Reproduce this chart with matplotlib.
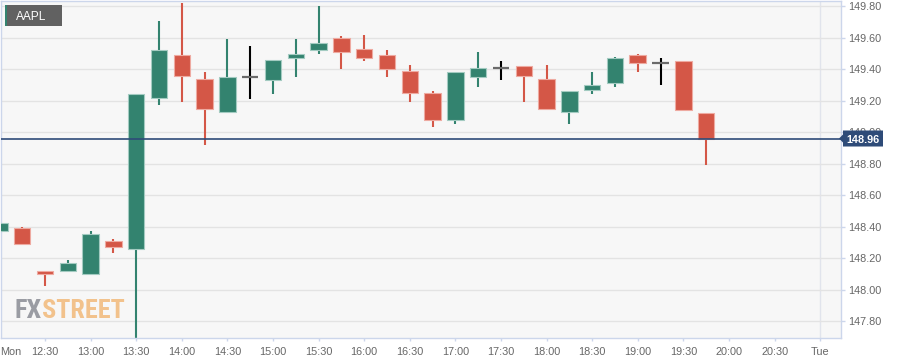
import matplotlib
matplotlib.use('Agg')
import matplotlib.pyplot as plt
from matplotlib.patches import Rectangle, Polygon
from matplotlib.transforms import IdentityTransform
from matplotlib import font_manager as fm

# ---------------- data ----------------
times = ["12:00", "12:15", "12:30", "12:45", "13:00", "13:15", "13:30", "13:45",
         "14:00", "14:15", "14:30", "14:45", "15:00", "15:15", "15:30", "15:45",
         "16:00", "16:15", "16:30", "16:45", "17:00", "17:15", "17:30", "17:45",
         "18:00", "18:15", "18:30", "18:45", "19:00", "19:15", "19:30", "19:45"]
opens = [148.37, 148.39, 148.12, 148.12, 148.10, 148.31, 148.26, 149.22,
         149.49, 149.34, 149.13, 149.35, 149.33, 149.47, 149.52, 149.60,
         149.53, 149.49, 149.39, 149.25, 149.08, 149.35, 149.41, 149.42,
         149.34, 149.13, 149.27, 149.31, 149.49, 149.44, 149.45, 149.12]
highs = [148.53, 148.40, 148.12, 148.19, 148.37, 148.32, 149.24, 149.71,
         149.82, 149.38, 149.59, 149.55, 149.46, 149.59, 149.80, 149.61,
         149.62, 149.52, 149.43, 149.26, 149.38, 149.51, 149.45, 149.42,
         149.43, 149.26, 149.38, 149.48, 149.50, 149.47, 149.45, 149.12]
lows = [148.30, 148.29, 148.02, 148.11, 148.10, 148.23, 147.66, 149.17,
        149.19, 148.92, 149.13, 149.21, 149.24, 149.35, 149.50, 149.40,
        149.45, 149.35, 149.19, 149.03, 149.05, 149.29, 149.33, 149.19,
        149.15, 149.05, 149.24, 149.29, 149.38, 149.30, 149.14, 148.79]
closes = [148.42, 148.29, 148.10, 148.17, 148.35, 148.27, 149.24, 149.52,
          149.36, 149.15, 149.35, 149.35, 149.46, 149.50, 149.57, 149.51,
          149.47, 149.40, 149.25, 149.08, 149.38, 149.41, 149.41, 149.36,
          149.15, 149.26, 149.30, 149.47, 149.44, 149.44, 149.14, 148.96]
xtick_labels = ["12:30", "13:00", "13:30", "14:00", "14:30", "15:00", "15:30",
                "16:00", "16:30", "17:00", "17:30", "18:00", "18:30", "19:00",
                "19:30", "20:00", "20:30", "Tue"]
ytick_values = [147.80, 148.00, 148.20, 148.40, 148.60, 148.80, 149.00,
                149.20, 149.40, 149.60, 149.80]
symbol = "AAPL"
first_day_label = "Mon"


def to_min(t):
    h, m = t.split(":")
    return (int(h) - 12) * 60 + int(m)


mins = [to_min(t) for t in times]
xtick_pos = [30 + 30 * i for i in range(len(xtick_labels))]

# ---------------- style ----------------
plt.rcParams['font.family'] = ['Liberation Sans', 'DejaVu Sans']
GREEN = '#33836f'
GREEN_EDGE = '#a3cbc1'
RED = '#d45747'
RED_EDGE = '#eeaaa1'
NAVY = '#2e4b78'
AXIS = '#ccd6eb'
GRID = '#e3e3e3'
LABEL = '#666666'

W, H = 906, 364
fig = plt.figure(figsize=(W / 100, H / 100), dpi=100, facecolor='white')
ax = fig.add_axes([1 / W, 26 / H, 840 / W, 337 / H])
ax.set_facecolor('#f7f7f7')
ax.set_xlim(1.05, 553.7)
ax.set_ylim(147.692, 149.834)

body_w = 10.9
for x, o, h, l, c in zip(mins, opens, highs, lows, closes):
    if c > o:
        col, ecol = GREEN, GREEN_EDGE
    elif c < o:
        col, ecol = RED, RED_EDGE
    else:
        col, ecol = 'black', None
    ax.vlines(x, l, h, color=col, lw=1.5, zorder=2)
    if ecol is None:
        ax.hlines(o, x - body_w / 2, x + body_w / 2, color='#6a6a6a', lw=1.6, zorder=3)
    else:
        ax.add_patch(Rectangle((x - body_w / 2, min(o, c)), body_w, abs(c - o),
                               facecolor=col, edgecolor=ecol, lw=0.8, zorder=3))

# grid & axes
ax.set_axisbelow(True)
ax.set_yticks(ytick_values)
ax.set_yticklabels([f"{v:.2f}" for v in ytick_values])
ax.set_xticks(xtick_pos)
ax.set_xticklabels(xtick_labels)
ax.grid(axis='y', color=GRID, lw=1, zorder=0)
ax.axvline(540, color='#e1e4ec', lw=1, zorder=0.5)
ax.yaxis.tick_right()
ax.tick_params(axis='y', right=True, left=False, labelright=True, labelleft=False,
               length=3, width=1, color=AXIS, pad=2.5, labelsize=7.8, labelcolor=LABEL)
ax.tick_params(axis='x', length=2, width=1, color=AXIS, pad=4.5, labelsize=7.8,
               labelcolor=LABEL)
for s in ax.spines.values():
    s.set_color(AXIS)
    s.set_linewidth(1)

ax.annotate(first_day_label, xy=(0, 0), xycoords='axes fraction',
            xytext=(-0.5, -6.5), textcoords='offset points', ha='left', va='top',
            fontsize=7.8, color=LABEL)

# current price line
last = closes[-1]
ax.axhline(last, color=NAVY, lw=1.2, zorder=4)

fig.canvas.draw()
renderer = fig.canvas.get_renderer()
yc = ax.transData.transform((mins[-1], last))[1]
xr = ax.transAxes.transform((1, 0))[0]
poly = Polygon([(xr - 2, yc), (xr + 2, yc + 4), (xr + 2, yc + 8), (xr + 42, yc + 8),
                (xr + 42, yc - 8), (xr + 2, yc - 8), (xr + 2, yc - 4)],
               closed=True, facecolor=NAVY, edgecolor='none',
               transform=IdentityTransform(), zorder=10)
fig.add_artist(poly)
fig.text(xr + 22, yc, f"{last:.2f}", transform=IdentityTransform(), color='white',
         fontsize=7.8, fontweight='bold', ha='center', va='center_baseline', zorder=11)

# symbol label box (top-left)
fig.add_artist(Rectangle((5, H - 26), 57, 21, facecolor='#616161', edgecolor='none',
                         transform=IdentityTransform(), zorder=10))
fig.add_artist(Rectangle((5, H - 26), 2.2, 21, facecolor=GREEN, edgecolor='none',
                         transform=IdentityTransform(), zorder=11))
fig.text(15.5, H - 15.5, symbol, transform=IdentityTransform(), color='white',
         fontsize=8.6, ha='left', va='center_baseline', zorder=12)

# watermark logo
names = {f.name for f in fm.fontManager.ttflist}
logo_family, logo_stretch = 'DejaVu Sans', 'condensed'
for n in ['Roboto Condensed', 'Liberation Sans Narrow', 'Open Sans Condensed',
          'DejaVu Sans Condensed']:
    if n in names:
        logo_family, logo_stretch = n, 'normal'
        break
probe = fig.text(0, 0, "FXSTREET", transform=IdentityTransform(), fontsize=20,
                 family=logo_family, fontstretch=logo_stretch, fontweight='bold')
wprobe = probe.get_window_extent(renderer).width
probe.remove()
fs = min(20 * 110 / wprobe, 26)
t1 = fig.text(15, H - 318, "FX", transform=IdentityTransform(), fontsize=fs,
              family=logo_family, fontstretch=logo_stretch, fontweight='bold',
              color='#9a9ca3', ha='left', va='baseline', zorder=6)
w1 = t1.get_window_extent(renderer).width
fig.text(15 + w1, H - 318, "STREET", transform=IdentityTransform(), fontsize=fs,
         family=logo_family, fontstretch=logo_stretch, fontweight='bold',
         color='#f2c28c', ha='left', va='baseline', zorder=6)

fig.savefig('out.png', dpi=100, facecolor='white')
